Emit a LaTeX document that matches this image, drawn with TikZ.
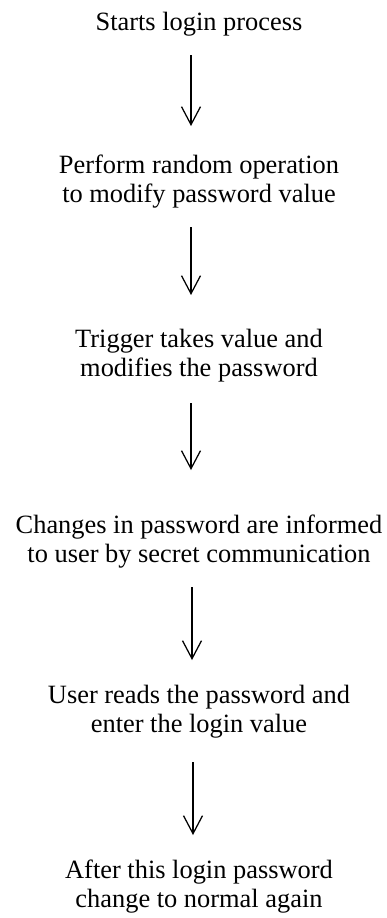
\documentclass[tikz,border=0pt]{standalone}
\usepackage{fontspec}
\setmainfont{Liberation Serif}
\usetikzlibrary{arrows.meta}
\newcommand{\topstrut}{\rule{0pt}{20pt}}
\newcommand{\botstrut}{\rule[-8pt]{0pt}{8pt}}
\tikzset{
  stepnode/.style={anchor=north, inner sep=0pt, outer sep=0pt, align=center,
    font=\fontsize{26.4}{29}\selectfont},
  flowarrow/.style={line width=1.25pt, -{Straight Barb[length=18pt,width=19pt,line width=1.25pt]}}
}
\begin{document}
\begin{tikzpicture}[x=1pt,y=1pt]
\useasboundingbox (0,0) rectangle (387,-918);
\node[stepnode] (a) at (199,-10) {\topstrut Starts login process\botstrut};
\node[stepnode] (b) at (199,-153) {\topstrut Perform random operation\\to modify password value\botstrut};
\node[stepnode] (c) at (199,-327) {\topstrut Trigger takes value and\\modifies the password\botstrut};
\node[stepnode] (d) at (199,-513) {\topstrut Changes in password are informed\\to user by secret communication\botstrut};
\node[stepnode] (e) at (199,-683) {\topstrut User reads the password and\\enter the login value\botstrut};
\node[stepnode] (f) at (199,-858) {\topstrut After this login password\\change to normal again\botstrut};
\draw[flowarrow, shorten <=17pt, shorten >=27pt] ([xshift=-8pt]a.south) -- ([xshift=-8pt]b.north);
\draw[flowarrow, shorten <=17pt, shorten >=32pt] ([xshift=-8pt]b.south) -- ([xshift=-8pt]c.north);
\draw[flowarrow, shorten <=19pt, shorten >=43pt] ([xshift=-8pt]c.south) -- ([xshift=-8pt]d.north);
\draw[flowarrow, shorten <=17pt, shorten >=23pt] ([xshift=-7pt]d.south) -- ([xshift=-7pt]e.north);
\draw[flowarrow, shorten <=22pt, shorten >=23pt] ([xshift=-6pt]e.south) -- ([xshift=-6pt]f.north);
\end{tikzpicture}
\end{document}
